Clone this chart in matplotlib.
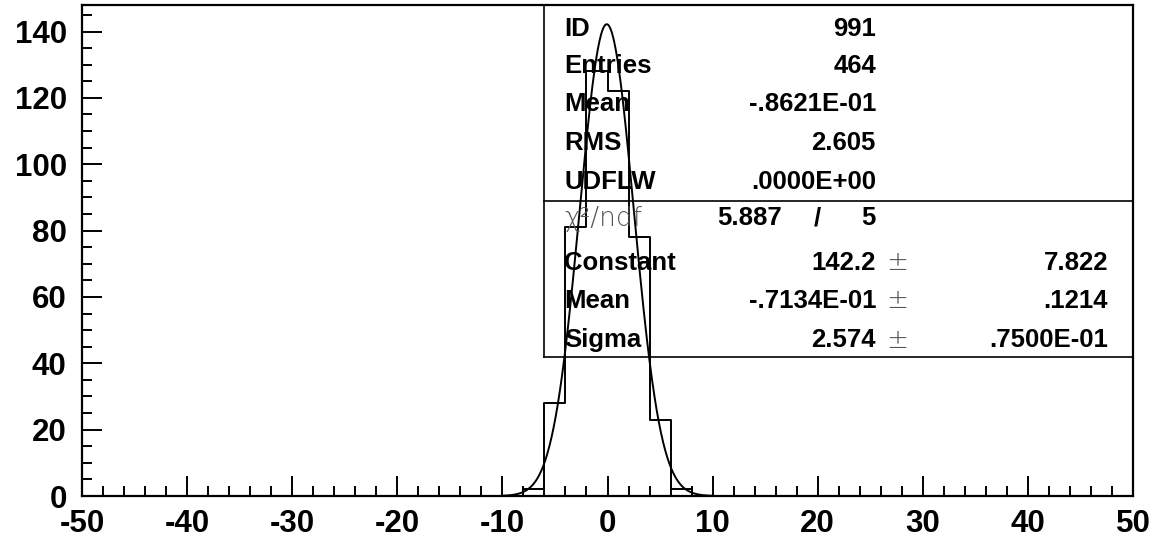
import numpy as np
import matplotlib
matplotlib.use("Agg")
import matplotlib.pyplot as plt
from matplotlib.ticker import MultipleLocator

# Données de l'histogramme
bin_edges = [-8, -6, -4, -2, 0, 2, 4, 6, 8]
counts = [2, 28, 81, 128, 122, 78, 23, 2]

# Paramètres de l'ajustement gaussien
fit_constant = 142.2
fit_mean = -0.7134E-01
fit_sigma = 2.574
fit_range = [-10, 10]

# Contenu de la boîte de statistiques
stat_labels = ["ID", "Entries", "Mean", "RMS", "UDFLW"]
stat_values = ["991", "464", "-.8621E-01", "2.605", ".0000E+00"]
fit_labels = ["Constant", "Mean", "Sigma"]
fit_values = ["142.2", "-.7134E-01", "2.574"]
fit_errors = ["7.822", ".1214", ".7500E-01"]
chi2_value = "5.887"
ndf_value = "5"

plt.rcParams["axes.unicode_minus"] = False

W, H = 1157, 544
fig = plt.figure(figsize=(W / 100, H / 100), dpi=100)
ax = fig.add_axes([82 / W, 1 - 496 / H, (1133 - 82) / W, (496 - 5) / H])

# Histogramme en escalier
xs = [bin_edges[0]]
ys = [0]
for i, c in enumerate(counts):
    xs += [bin_edges[i], bin_edges[i + 1]]
    ys += [c, c]
xs.append(bin_edges[-1])
ys.append(0)
ax.plot(xs, ys, color="black", lw=1.4)

# Courbe ajustée
xf = np.linspace(fit_range[0], fit_range[1], 400)
yf = fit_constant * np.exp(-0.5 * ((xf - fit_mean) / fit_sigma) ** 2)
ax.plot(xf, yf, color="black", lw=1.4)

ax.set_xlim(-50, 50)
ax.set_ylim(0, 148)

font = "Liberation Sans"
ax.xaxis.set_major_locator(MultipleLocator(10))
ax.xaxis.set_minor_locator(MultipleLocator(2))
ax.yaxis.set_major_locator(MultipleLocator(20))
ax.yaxis.set_minor_locator(MultipleLocator(5))
ax.tick_params(axis="x", which="major", direction="in", length=14.5, width=1.4, top=False, pad=9)
ax.tick_params(axis="x", which="minor", direction="in", length=7, width=1.4, top=False)
ax.tick_params(axis="y", which="major", direction="in", length=14.5, width=1.4, right=False, pad=11)
ax.tick_params(axis="y", which="minor", direction="in", length=7, width=1.4, right=False)
for lab in ax.get_xticklabels() + ax.get_yticklabels():
    lab.set_fontfamily(font)
    lab.set_fontweight("bold")
    lab.set_fontsize(22.5)
for s in ax.spines.values():
    s.set_linewidth(1.6)

# Boîte de statistiques (coordonnées en pixels de la figure)
def fx(px):
    return px / W

def fy(py):
    return 1 - py / H

box_l, box_r, box_t, box_div, box_b = 544, 1133, 5, 201, 357
fig.add_artist(plt.Line2D([fx(box_l), fx(box_l)], [fy(box_t), fy(box_b)], color="black", lw=1.2))
fig.add_artist(plt.Line2D([fx(box_l), fx(box_r)], [fy(box_b), fy(box_b)], color="black", lw=1.2))
fig.add_artist(plt.Line2D([fx(box_l), fx(box_r)], [fy(box_div), fy(box_div)], color="black", lw=1.2))

tkw = dict(fontfamily=font, fontweight="bold", fontsize=18.5, va="center")
row_y = [29, 66, 104, 143, 182]
for lab, val, y in zip(stat_labels, stat_values, row_y):
    fig.text(fx(564), fy(y), lab, ha="left", **tkw)
    fig.text(fx(876), fy(y), val, ha="right", **tkw)

fig.text(fx(564), fy(219), "\u03c7\u00b2/ndf", ha="left", va="center", fontsize=19,
         fontfamily="DejaVu Sans", fontweight="light", color="#555555")
fig.text(fx(782), fy(218), chi2_value, ha="right", **tkw)
fig.text(fx(817), fy(218), "/", ha="center", **tkw)
fig.text(fx(876), fy(218), ndf_value, ha="right", **tkw)

row_y2 = [263, 301, 340]
for lab, val, err, y in zip(fit_labels, fit_values, fit_errors, row_y2):
    fig.text(fx(564), fy(y), lab, ha="left", **tkw)
    fig.text(fx(876), fy(y), val, ha="right", **tkw)
    fig.text(fx(897), fy(y), "\u00b1", ha="center", va="center", fontsize=19,
             fontfamily="DejaVu Sans", fontweight="light", color="#555555")
    fig.text(fx(1108), fy(y), err, ha="right", **tkw)

fig.savefig("out.png", dpi=100)
